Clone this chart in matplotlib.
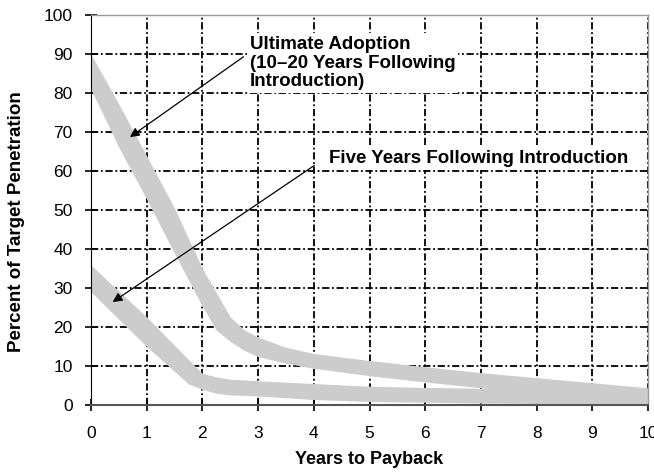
import numpy as np
import matplotlib.pyplot as plt

plt.rcParams['font.family'] = ['Liberation Sans', 'DejaVu Sans']

# "Ultimate adoption" band: payback years and upper / lower edge of the band
ult_years = [0, 0.5, 1, 1.5, 2, 2.25, 2.5, 2.75, 3, 3.5, 4, 5, 6, 7, 8, 9, 10]
ult_high = [90, 77.2, 63.9, 50.5, 35, 28.8, 22.6, 19.3, 17.4, 14.8, 13.2, 11.4, 9.8, 8.3, 7, 5.7, 4.4]
ult_low = [81, 66.1, 52.8, 38.9, 25.3, 19.2, 16.3, 14, 12.4, 10.7, 9.4, 7.5, 5.9, 4.4, 3.2, 1.8, 0.6]

# "Five years following introduction" band
five_years = [0, 0.5, 1, 1.5, 1.75, 2, 2.25, 2.5, 3, 4, 5, 6, 7, 8, 9, 10]
five_high = [35.9, 29.2, 22.6, 15.3, 11.7, 8.1, 7.2, 6.6, 6.2, 5.5, 4.8, 4.5, 4.3, 4.2, 4.2, 4.2]
five_low = [29, 22, 15, 8.6, 5.4, 4.0, 3.0, 2.6, 2.3, 1.4, 0.9, 0.7, 0.5, 0.4, 0.3, 0.3]

xticks = list(range(0, 11))
yticks = list(range(0, 101, 10))

fig = plt.figure(figsize=(6.54, 4.72), dpi=100)
ax = fig.add_axes([0.139, 0.142, 0.852, 0.826])

ax.fill_between(ult_years, ult_low, ult_high, color='#cccccc', lw=0, zorder=2)
ax.fill_between(five_years, five_low, five_high, color='#cccccc', lw=0, zorder=2)

ax.set_xlim(0, 10)
ax.set_ylim(0, 100)
ax.set_xticks(xticks)
ax.set_yticks(yticks)
ax.grid(True, color='black', linestyle=(0, (4, 1.5, 1, 1.5)), linewidth=1.3, zorder=1)
ax.set_axisbelow(True)

for s in ['top', 'right']:
    ax.spines[s].set_color('#999999')
    ax.spines[s].set_linewidth(1)
ax.spines['left'].set_color('black')
ax.spines['bottom'].set_color('#555555')
ax.spines['bottom'].set_linewidth(1.5)
ax.tick_params(direction='inout', length=8, width=1.2, labelsize=12.5)
ax.tick_params(axis='x', pad=11)
ax.tick_params(axis='y', pad=9)

ax.set_xlabel('Years to Payback', fontsize=13, fontweight='bold', va='center')
ax.set_ylabel('Percent of Target Penetration', fontsize=13.5, fontweight='bold', va='center')
ax.xaxis.set_label_coords(0.5, -0.141)
ax.yaxis.set_label_coords(-0.133, 0.47)

ax.annotate('Ultimate Adoption\n(10\u201320 Years Following\nIntroduction)',
            xy=(0.70, 68.7), xytext=(2.85, 94.6), fontsize=13.5, fontweight='bold',
            ha='left', va='top', linespacing=1.12,
            bbox=dict(facecolor='white', edgecolor='none', pad=2),
            arrowprops=dict(arrowstyle='-|>', color='black', lw=0.9, mutation_scale=14,
                            shrinkA=0, shrinkB=0, relpos=(-0.03, 0.62)), zorder=5)
ax.annotate('Five Years Following Introduction',
            xy=(0.39, 26.4), xytext=(4.28, 63.2), fontsize=13.5, fontweight='bold',
            ha='left', va='center',
            bbox=dict(facecolor='white', edgecolor='none', pad=2),
            arrowprops=dict(arrowstyle='-|>', color='black', lw=0.9, mutation_scale=14,
                            shrinkA=0, shrinkB=0, relpos=(-0.05, 0.1)), zorder=5)

fig.savefig('out.png', dpi=100)
